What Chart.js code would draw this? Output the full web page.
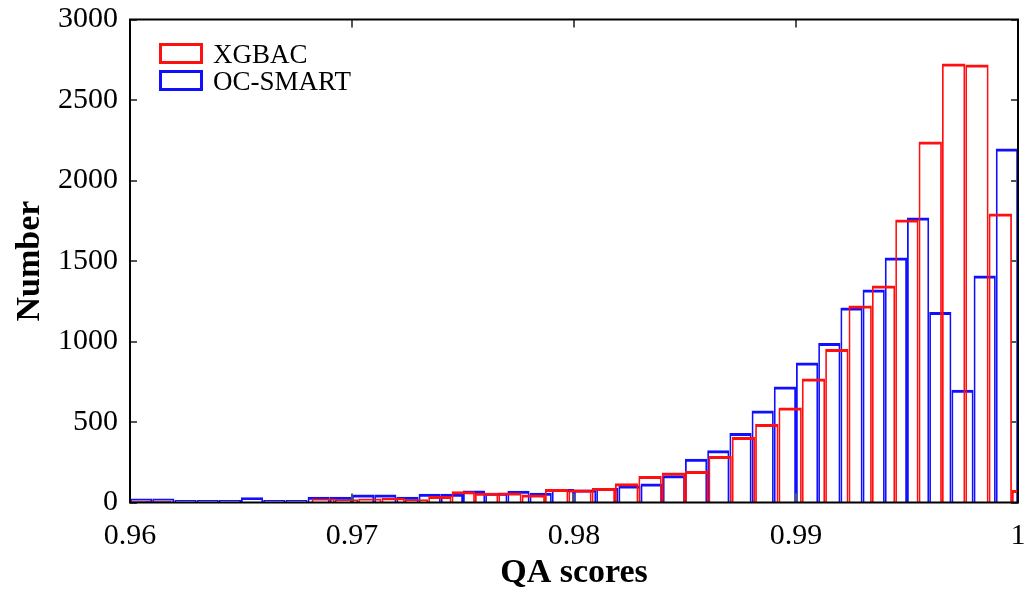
<!DOCTYPE html>
<html>
<head>
<meta charset="utf-8">
<title>QA scores</title>
<script src="https://cdn.jsdelivr.net/npm/chart.js@4.4.1/dist/chart.umd.min.js"></script>
<style>
  html, body { margin: 0; padding: 0; background: #fff; }
  #wrap { width: 1033px; height: 590px; }
</style>
</head>
<body>
<div id="wrap"><canvas id="histQA"></canvas></div>
<script>
// OC-SMART histogram: 0.001 wide bins from 0.960
const ocBinStart = 0.960;
const ocBinWidth = 0.001;
const ocSmartCounts = [25, 25, 15, 15, 15, 32, 15, 15, 35, 35,
                       50, 50, 35, 55, 55, 75, 60, 73, 60, 84,
                       80, 90, 105, 118, 170, 272, 325, 432, 571, 720,
                       870, 991, 1211, 1323, 1522, 1770, 1183, 700, 1410, 2199];

// XGBAC histogram: its own (slightly wider) bins
const xgbBinStart = 0.95976;
const xgbBinWidth = 0.0010518;
const xgbacCounts = [10, 10, 5, 5, 5, 0, 5, 5, 25, 20,
                     25, 28, 20, 40, 70, 60, 62, 50, 84, 80,
                     90, 120, 165, 186, 196, 289, 407, 488, 590, 770,
                     953, 1224, 1348, 1758, 2242, 2727, 2720, 1795, 78];

const xTicks = [0.96, 0.97, 0.98, 0.99, 1];
const yTicks = [0, 500, 1000, 1500, 2000, 2500, 3000];

const serif = '"Liberation Serif", "Times New Roman", serif';

function binPoints(start, width, counts) {
  return counts.map((c, i) => ({ x: start + (i + 0.5) * width, y: c }));
}

// frame, inward tick marks and the boxed legend
const framePlugin = {
  id: 'frameAndLegend',
  afterDatasetsDraw(chart) {
    const { ctx, chartArea: a, scales } = chart;
    ctx.save();
    ctx.strokeStyle = '#555';
    ctx.lineWidth = 2;
    ctx.beginPath();
    xTicks.forEach(v => {
      const px = Math.round(scales.x.getPixelForValue(v));
      ctx.moveTo(px, a.bottom); ctx.lineTo(px, a.bottom - 9);
      ctx.moveTo(px, a.top); ctx.lineTo(px, a.top + 8);
    });
    yTicks.forEach(v => {
      const py = Math.round(scales.y.getPixelForValue(v));
      ctx.moveTo(a.left, py); ctx.lineTo(a.left + 7, py);
      ctx.moveTo(a.right, py); ctx.lineTo(a.right - 7, py);
    });
    ctx.stroke();
    ctx.strokeStyle = '#000';
    ctx.lineWidth = 2;
    ctx.strokeRect(a.left, a.top, a.right - a.left, a.bottom - a.top);
    ctx.restore();
  },
  afterDraw(chart) {
    const { ctx, chartArea: a } = chart;
    ctx.save();
    ctx.font = '27px ' + serif;
    ctx.textBaseline = 'alphabetic';
    chart.data.datasets.forEach((ds, i) => {
      const top = a.top + 25 + i * 27;
      ctx.lineWidth = 3;
      ctx.strokeStyle = ds.borderColor;
      ctx.strokeRect(a.left + 30.5, top, 41, 18);
      ctx.fillStyle = '#000';
      ctx.fillText(ds.label, a.left + 83, top + 18.5);
    });
    ctx.restore();
  }
};

const barStyle = {
  backgroundColor: 'rgba(0,0,0,0)',
  borderWidth: { top: 3, left: 1.75, right: 1.75, bottom: 0 },
  borderSkipped: false,
  inflateAmount: 0,
  barPercentage: 1,
  categoryPercentage: 1,
  grouped: false,
  clip: 0
};

new Chart(document.getElementById('histQA'), {
  type: 'bar',
  data: {
    datasets: [
      Object.assign({
        label: 'XGBAC',
        data: binPoints(xgbBinStart, xgbBinWidth, xgbacCounts),
        xAxisID: 'xRed',
        borderColor: '#ff1010'
      }, barStyle),
      Object.assign({
        label: 'OC-SMART',
        data: binPoints(ocBinStart, ocBinWidth, ocSmartCounts),
        xAxisID: 'x',
        borderColor: '#1010ff'
      }, barStyle)
    ]
  },
  options: {
    responsive: true,
    maintainAspectRatio: false,
    animation: false,
    layout: { padding: { top: 19.5, right: 15, left: 0, bottom: 0 } },
    plugins: {
      legend: { display: false },
      tooltip: { enabled: false }
    },
    scales: {
      x: {
        type: 'linear',
        position: 'bottom',
        min: 0.96,
        max: 1,
        offset: false,
        grid: { display: false, drawTicks: false },
        border: { display: false },
        afterBuildTicks: s => { s.ticks = xTicks.map(v => ({ value: v })); },
        afterFit: s => {
          s.height = 87.5;
          s.paddingLeft = 0;
          s.paddingRight = 0;
        },
        ticks: {
          color: '#000',
          padding: 16,
          font: { family: serif, size: 30 },
          callback: v => String(Number(v.toFixed(2)))
        },
        title: {
          display: true,
          text: 'QA scores',
          color: '#000',
          padding: { top: 0, bottom: -4 },
          font: { family: serif, size: 34, weight: 'bold' }
        }
      },
      xRed: {
        type: 'linear',
        position: 'bottom',
        display: false,
        min: 0.96,
        max: 1,
        offset: false,
        grid: { display: false }
      },
      y: {
        min: 0,
        max: 3000,
        grid: { display: false, drawTicks: false },
        border: { display: false },
        afterBuildTicks: s => { s.ticks = yTicks.map(v => ({ value: v })); },
        afterFit: s => {
          s.width = 130;
          s.paddingTop = 0;
          s.paddingBottom = 0;
        },
        ticks: {
          color: '#000',
          padding: 12,
          font: { family: serif, size: 30 },
          callback: v => String(v)
        },
        title: {
          display: true,
          text: 'Number',
          color: '#000',
          padding: { top: 10, bottom: 0 },
          font: { family: serif, size: 34, weight: 'bold' }
        }
      }
    }
  },
  plugins: [framePlugin]
});
</script>
</body>
</html>
